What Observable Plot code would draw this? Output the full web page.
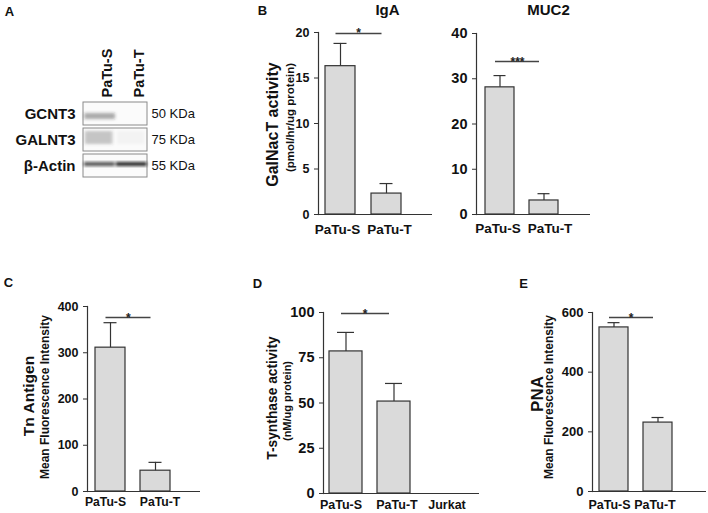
<!DOCTYPE html>
<html><head><meta charset="utf-8">
<script src="https://cdn.jsdelivr.net/npm/d3@7"></script>
<script src="https://cdn.jsdelivr.net/npm/@observablehq/plot@0.6"></script>
<style>
body{margin:0;background:#fff}
#fig{position:relative;width:708px;height:513px;font-family:"Liberation Sans",Arial,sans-serif}
#fig svg{position:absolute;left:0;top:0}
</style></head><body><div id="fig"></div>
<script>
const W = 708, H = 513;
const FONT = "'Liberation Sans', Arial, sans-serif";

// ---------- data ----------
// Panel A: western blot
const blotLanes = ["PaTu-S", "PaTu-T"];
const blotProteins = ["GCNT3", "GALNT3", "β-Actin"];
const blotSizes = ["50 KDa", "75 KDa", "55 KDa"];
const blotGCNT3 = [0.38, 0.0];
const blotGALNT3 = [0.30, 0.03];
const blotActin = [0.72, 0.9];

// Panel B: IgA / MUC2 GalNacT activity
const cellLines = ["PaTu-S", "PaTu-T"];
const igaMean = [16.3, 2.3];
const igaErr = [2.5, 1.1];
const igaTicks = [0, 5, 10, 15, 20];
const muc2Mean = [28.1, 3.1];
const muc2Err = [2.6, 1.5];
const muc2Ticks = [0, 10, 20, 30, 40];

// Panel C: Tn antigen
const tnMean = [311, 45];
const tnErr = [54, 18];
const tnTicks = [0, 100, 200, 300, 400];

// Panel D: T-synthase activity
const tsCats = ["PaTu-S", "PaTu-T", "Jurkat"];
const tsMean = [78.5, 50.8, null];
const tsErr = [10.5, 10.0, null];
const tsTicks = [0, 25, 50, 75, 100];

// Panel E: PNA
const pnaMean = [550, 231];
const pnaErr = [16, 17];
const pnaTicks = [0, 200, 400, 600];

// significance brackets
const igaSig = [{from: "PaTu-S", to: "PaTu-T", level: 19.9, label: "*"}];
const muc2Sig = [{from: "PaTu-S", to: "PaTu-T", level: 33.8, label: "***"}];
const tnSig = [{from: "PaTu-S", to: "PaTu-T", level: 376, label: "*"}];
const tsSig = [{from: "PaTu-S", to: "PaTu-T", level: 99.4, label: "*"}];
const pnaSig = [{from: "PaTu-S", to: "PaTu-T", level: 583, label: "*"}];

const fig = document.getElementById("fig");
const INK = "#333";
const C = {textAnchor: "middle", lineAnchor: "middle", fontWeight: "bold", fill: "#111"};

function barPanel(cfg) {
  const {cats, mean, err, ticks, sig, frame: [L, R, T, B], band: [a, b], pi,
         letter, title, yTitle, ySub, tickFont, xFont, xPad, xDx} = cfg;
  const rows = cats.map((c, i) => ({cat: c, mean: mean[i], err: err[i]}))
                   .filter(d => d.mean != null);
  const step = (b - a) / (cats.length - pi);
  const marks = [
    Plot.barY(rows, {x: "cat", y: "mean", fill: "#dadada", stroke: INK, strokeWidth: 1.2}),
    Plot.ruleX(rows, {x: "cat", y1: "mean", y2: d => d.mean + d.err, stroke: INK, strokeWidth: 1.2}),
    Plot.tickY(rows, {x: "cat", y: d => d.mean + d.err, inset: cfg.capInset ?? 8.5, stroke: INK, strokeWidth: 1.2}),
    Plot.ruleY([0], {stroke: INK, strokeWidth: 1.2}),
    Plot.frame({anchor: "left", stroke: INK, strokeWidth: 1.2}),
    Plot.axisY({ticks, tickSize: 4, tickPadding: 5, fontSize: tickFont, fontWeight: "bold", label: null, stroke: INK, fill: "#111"}),
    ...cats.map((c, i) => Plot.text([c], {x: d => d, text: d => d, frameAnchor: "bottom", textAnchor: "middle",
        lineAnchor: "top", dy: xPad, dx: xDx[i], fontSize: xFont, fontWeight: "bold", fill: "#111"})),
    Plot.link(sig, {x1: "from", x2: "to", y1: "level", y2: "level", dx: -5, stroke: "#444", strokeWidth: 1.5}),
    Plot.text(sig, {x: "from", y: "level", text: "label", dx: step / 2 - 5, dy: 4, lineAnchor: "bottom",
                    textAnchor: "middle", fontSize: 12, fontWeight: "bold", fill: "#222"})
  ];
  if (letter) marks.push(Plot.text([letter.text], {...C, frameAnchor: "top-left", dx: letter.dx, dy: letter.dy, fontSize: 13}));
  if (title) marks.push(Plot.text([title.text], {...C, frameAnchor: "top", dx: title.dx, dy: title.dy, fontSize: 15}));
  if (yTitle) marks.push(Plot.text([yTitle.text], {...C, frameAnchor: "left", rotate: -90, dx: yTitle.dx, dy: yTitle.dy, fontSize: yTitle.size}));
  if (ySub) marks.push(Plot.text([ySub.text], {...C, frameAnchor: "left", rotate: -90, dx: ySub.dx, dy: ySub.dy, fontSize: ySub.size}));
  const svg = Plot.plot({
    width: W, height: H,
    marginLeft: L, marginRight: W - R, marginTop: T, marginBottom: H - B,
    style: {background: "transparent", fontFamily: FONT, overflow: "visible"},
    x: {type: "band", domain: cats, range: [a, b], paddingInner: pi, paddingOuter: 0, align: 0.5, axis: null},
    y: {domain: [0, ticks[ticks.length - 1]], axis: null},
    marks
  });
  fig.appendChild(svg);
}

// ---------- Panel A: blot ----------
(function () {
  const L = 83, R = 147, T = 102, B = 177;
  const bandRows = [];
  const rowsets = [blotGCNT3, blotGALNT3, blotActin];
  blotProteins.forEach((p, r) => blotLanes.forEach((lane, i) =>
    bandRows.push({protein: p, lane: i, v: rowsets[r][i]})));
  const byP = p => bandRows.filter(d => d.protein === p);
  const svg = Plot.plot({
    width: W, height: H,
    marginLeft: L, marginRight: W - R, marginTop: T, marginBottom: H - B,
    style: {background: "transparent", fontFamily: FONT, overflow: "visible"},
    x: {domain: [0, blotLanes.length], axis: null},
    y: {type: "band", domain: blotProteins, paddingInner: 0.12, paddingOuter: 0, axis: null},
    marks: [
      Plot.barX(blotProteins, {y: d => d, x1: 0, x2: blotLanes.length, fill: "#fbfbfb", stroke: "#8a8a8a", strokeWidth: 1}),
      Plot.barX(byP("GCNT3"), {y: "protein", x1: d => d.lane + 0.04, x2: d => d.lane + 1.0, fill: "#222", fillOpacity: "v", insetTop: 11, insetBottom: 6}),
      Plot.barX(byP("GALNT3"), {y: "protein", x1: d => d.lane + 0.06, x2: d => d.lane + 0.92, fill: "#444", fillOpacity: "v", insetTop: 3, insetBottom: 7}),
      Plot.barX(byP("β-Actin"), {y: "protein", x1: d => d.lane + 0.03, x2: d => d.lane + 0.99, fill: "#111", fillOpacity: "v", insetTop: 8, insetBottom: 11}),
      Plot.axisY({tickSize: 0, tickPadding: 8, fontSize: 15, fontWeight: "bold", label: null, fill: "#111"}),
      Plot.text(blotProteins, {y: d => d, text: (d, i) => blotSizes[i], frameAnchor: "right", textAnchor: "start", lineAnchor: "middle", dx: 4, fontSize: 13, fill: "#111"}),
      Plot.text(blotLanes, {x: (d, i) => i + 0.5, text: d => d, frameAnchor: "top", rotate: -90, textAnchor: "start", lineAnchor: "middle", dx: 7.5, dy: -5, fontSize: 14.5, fontWeight: "bold", fill: "#111"}),
      Plot.text(["A"], {...C, frameAnchor: "top-left", dx: -74, dy: -91, fontSize: 13})
    ]
  });
  const defs = d3.select(svg).insert("defs", ":first-child");
  defs.append("filter").attr("id", "blotBlur").attr("x", "-20%").attr("y", "-50%").attr("width", "140%").attr("height", "200%")
    .append("feGaussianBlur").attr("stdDeviation", 1.4);
  d3.select(svg).selectAll('g[aria-label="bar"]').filter((d, i) => i > 0).attr("filter", "url(#blotBlur)");
  fig.appendChild(svg);
})();

// ---------- Panel B ----------
barPanel({cats: cellLines, mean: igaMean, err: igaErr, ticks: igaTicks, sig: igaSig,
  frame: [318, 432, 32, 214], band: [325, 401], pi: 0.348,
  tickFont: 12.5, xFont: 13.5, xPad: 10, xDx: [-3, 3],
  letter: {text: "B", dx: -56, dy: -22},
  title: {text: "IgA", dx: 12, dy: -22},
  yTitle: {text: "GalNacT activity", dx: -46, dy: 1, size: 16},
  ySub: {text: "(pmol/hr/ug protein)", dx: -28, dy: -6, size: 11.5}});

barPanel({cats: cellLines, mean: muc2Mean, err: muc2Err, ticks: muc2Ticks, sig: muc2Sig,
  frame: [476, 590, 33, 214], band: [484, 559], pi: 0.333,
  tickFont: 14.5, xFont: 13.5, xPad: 9, xDx: [-2, 6],
  title: {text: "MUC2", dx: 15, dy: -23}});

// ---------- Panel C ----------
barPanel({cats: cellLines, mean: tnMean, err: tnErr, ticks: tnTicks, sig: tnSig,
  frame: [87, 200, 306, 491], band: [95, 171], pi: 0.33,
  tickFont: 12.5, xFont: 12.2, xPad: 6, xDx: [-5, 4.5],
  letter: {text: "C", dx: -79, dy: -24},
  yTitle: {text: "Tn Antigen", dx: -58, dy: -3, size: 15.5},
  ySub: {text: "Mean Fluorescence Intensity", dx: -42, dy: -2, size: 12}});

// ---------- Panel D ----------
barPanel({cats: tsCats, mean: tsMean, err: tsErr, ticks: tsTicks, sig: tsSig,
  frame: [323, 479, 312, 493], band: [329, 458], pi: 0.32, capInset: 8,
  tickFont: 14.5, xFont: 12.5, xPad: 7, xDx: [-5, 3, 5],
  letter: {text: "D", dx: -66, dy: -29},
  yTitle: {text: "T-synthase activity", dx: -51, dy: -5, size: 13.8},
  ySub: {text: "(nM/ug protein)", dx: -36, dy: -2, size: 11}});

// ---------- Panel E ----------
barPanel({cats: cellLines, mean: pnaMean, err: pnaErr, ticks: pnaTicks, sig: pnaSig,
  frame: [592, 706, 312, 491], band: [599, 673], pi: 0.33,
  tickFont: 13, xFont: 12.5, xPad: 9, xDx: [-4.5, -3],
  letter: {text: "E", dx: -69, dy: -29},
  yTitle: {text: "PNA", dx: -55, dy: -8, size: 17},
  ySub: {text: "Mean Fluorescence Intensity", dx: -43, dy: -5, size: 12}});
</script></body></html>
